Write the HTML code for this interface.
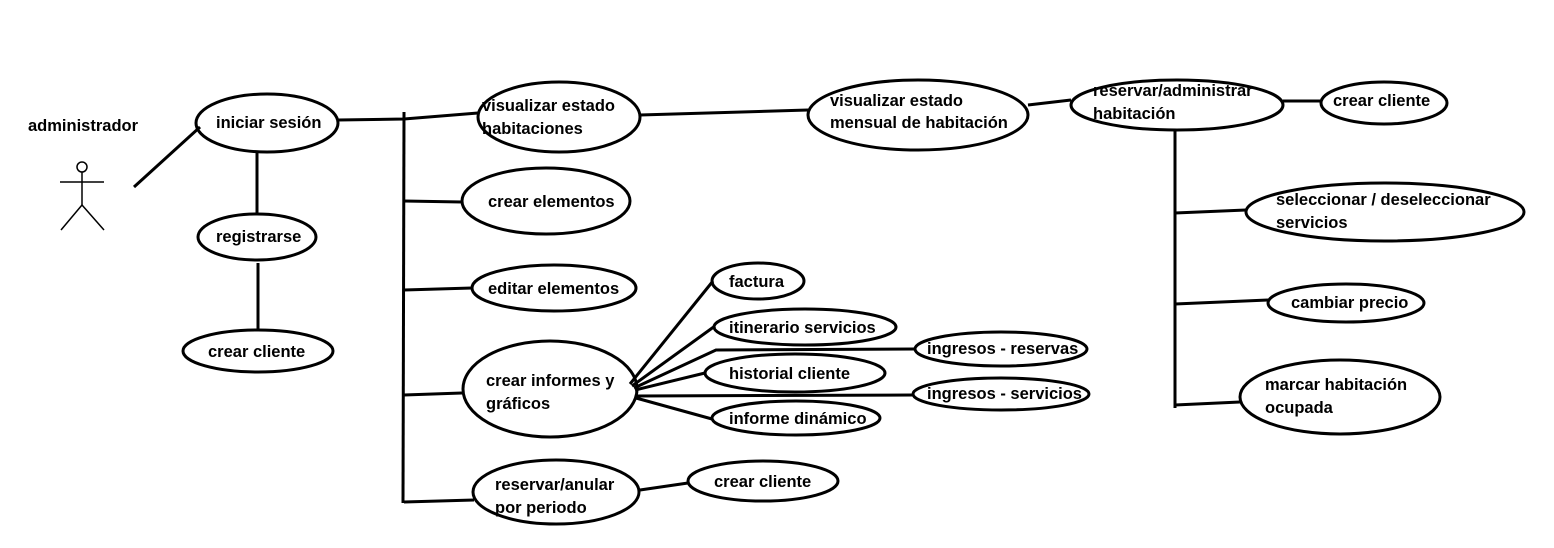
<!DOCTYPE html>
<html><head><meta charset="utf-8"><style>
html,body{margin:0;padding:0;background:#fff;}
svg{display:block;}
text{font-family:"Liberation Sans",sans-serif;font-weight:bold;font-size:16.5px;fill:#000;}
</style></head><body>
<svg width="1554" height="548" viewBox="0 0 1554 548" xmlns="http://www.w3.org/2000/svg">
<g fill="none" stroke="#000" stroke-width="3">
<ellipse cx="267" cy="123" rx="71" ry="29"/>
<ellipse cx="257" cy="237" rx="59" ry="23"/>
<ellipse cx="258" cy="351" rx="75" ry="21"/>
<ellipse cx="559" cy="117" rx="81" ry="35"/>
<ellipse cx="546" cy="201" rx="84" ry="33"/>
<ellipse cx="554" cy="288" rx="82" ry="23"/>
<ellipse cx="550" cy="389" rx="87" ry="48"/>
<ellipse cx="556" cy="492" rx="83" ry="32"/>
<ellipse cx="763" cy="481" rx="75" ry="20"/>
<ellipse cx="758" cy="281" rx="46" ry="18"/>
<ellipse cx="805" cy="327" rx="91" ry="18"/>
<ellipse cx="1001" cy="349" rx="86" ry="17"/>
<ellipse cx="795" cy="373" rx="90" ry="19"/>
<ellipse cx="1001" cy="394" rx="88" ry="16"/>
<ellipse cx="796" cy="418" rx="84" ry="17"/>
<ellipse cx="918" cy="115" rx="110" ry="35"/>
<ellipse cx="1177" cy="105" rx="106" ry="25"/>
<ellipse cx="1384" cy="103" rx="63" ry="21"/>
<ellipse cx="1385" cy="212" rx="139" ry="29"/>
<ellipse cx="1346" cy="303" rx="78" ry="19"/>
<ellipse cx="1340" cy="397" rx="100" ry="37"/>
<polyline points="134,187 200,127"/>
<line x1="257" y1="152" x2="257" y2="214"/>
<line x1="258" y1="263" x2="258" y2="330"/>
<polyline points="338,120 404,119 478,113"/>
<line x1="404" y1="112" x2="403" y2="503"/>
<line x1="404" y1="201" x2="462" y2="202"/>
<line x1="404" y1="290" x2="472" y2="288"/>
<line x1="404" y1="395" x2="462" y2="393"/>
<line x1="404" y1="502" x2="474" y2="500"/>
<line x1="640" y1="115" x2="808" y2="110"/>
<line x1="1028" y1="105" x2="1071" y2="100"/>
<line x1="1283" y1="101" x2="1321" y2="101"/>
<line x1="1175" y1="130" x2="1175" y2="408"/>
<line x1="1175" y1="213" x2="1246" y2="210"/>
<line x1="1175" y1="304" x2="1268" y2="300"/>
<line x1="1175" y1="405" x2="1240" y2="402"/>
<line x1="630" y1="384" x2="713" y2="281"/>
<line x1="632" y1="386" x2="715" y2="326"/>
<polyline points="634,388 716,350 915,349"/>
<line x1="635" y1="390" x2="705" y2="373"/>
<line x1="636" y1="396" x2="913" y2="395"/>
<line x1="636" y1="398" x2="712" y2="419"/>
<line x1="640" y1="490" x2="688" y2="483"/>
</g>
<g fill="none" stroke="#000" stroke-width="1.5">
<circle cx="82" cy="167" r="5"/>
<line x1="82" y1="172" x2="82" y2="205"/>
<line x1="60" y1="182" x2="104" y2="182"/>
<line x1="82" y1="205" x2="61" y2="230"/>
<line x1="82" y1="205" x2="104" y2="230"/>
</g>
<text x="28" y="131">administrador</text>
<text x="216" y="128">iniciar sesión</text>
<text x="216" y="242">registrarse</text>
<text x="208" y="357">crear cliente</text>
<text x="482" y="111">visualizar estado</text>
<text x="482" y="134">habitaciones</text>
<text x="488" y="207">crear elementos</text>
<text x="488" y="294">editar elementos</text>
<text x="486" y="386">crear informes y</text>
<text x="486" y="409">gráficos</text>
<text x="495" y="490">reservar/anular</text>
<text x="495" y="513">por periodo</text>
<text x="714" y="487">crear cliente</text>
<text x="729" y="287">factura</text>
<text x="729" y="333">itinerario servicios</text>
<text x="927" y="354">ingresos - reservas</text>
<text x="729" y="379">historial cliente</text>
<text x="927" y="399">ingresos - servicios</text>
<text x="729" y="424">informe dinámico</text>
<text x="830" y="106">visualizar estado</text>
<text x="830" y="128">mensual de habitación</text>
<text x="1093" y="96">reservar/administrar</text>
<text x="1093" y="119">habitación</text>
<text x="1333" y="106">crear cliente</text>
<text x="1276" y="205">seleccionar / deseleccionar</text>
<text x="1276" y="228">servicios</text>
<text x="1291" y="308">cambiar precio</text>
<text x="1265" y="390">marcar habitación</text>
<text x="1265" y="413">ocupada</text>
</svg>
</body></html>
